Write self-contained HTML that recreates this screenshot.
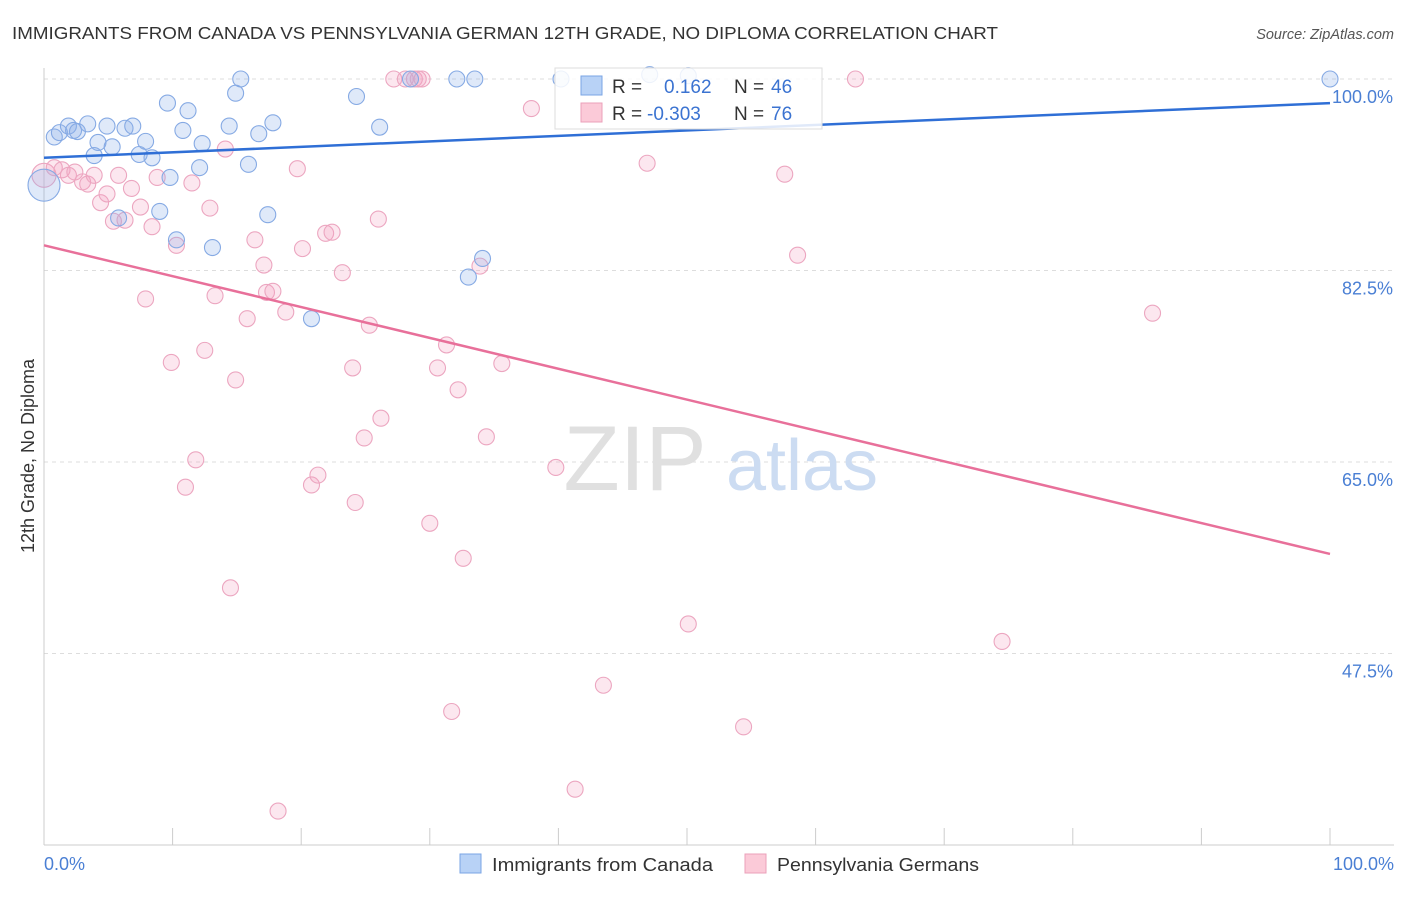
<!DOCTYPE html>
<html><head><meta charset="utf-8">
<style>
body{margin:0;background:#fff;font-family:"Liberation Sans",sans-serif;}
svg text{font-family:"Liberation Sans",sans-serif;}
</style></head>
<body>
<svg id="chart" width="1406" height="892" viewBox="0 0 1406 892">
<text x="12" y="39" font-size="17.5" fill="#333" textLength="986" lengthAdjust="spacingAndGlyphs">IMMIGRANTS FROM CANADA VS PENNSYLVANIA GERMAN 12TH GRADE, NO DIPLOMA CORRELATION CHART</text>
<text x="1394" y="39" font-size="14.5" fill="#555" font-style="italic" text-anchor="end">Source: ZipAtlas.com</text>
<g id="grid"></g>
<g>
<text x="635" y="490" font-size="92" fill="#e0e0e0" font-family="Liberation Serif" text-anchor="middle">ZIP</text>
<text x="802" y="490" font-size="72" fill="#ccdcf2" text-anchor="middle">atlas</text>
</g>
<line x1="44" y1="68" x2="44" y2="845" stroke="#ccc"/>
<line x1="44" y1="845" x2="1394" y2="845" stroke="#ccc"/>
<g id="xticks"></g>
<g id="ylabels"></g>
<text x="44" y="870" font-size="18" fill="#4a7fd4">0.0%</text>
<text x="1394" y="870" font-size="18" fill="#4a7fd4" text-anchor="end">100.0%</text>
<text transform="translate(34,456) rotate(-90)" font-size="18" fill="#333" text-anchor="middle">12th Grade, No Diploma</text>
<g id="pinkpts"></g>
<g id="bluepts"></g>
<g id="lines"></g>
<g>
<rect x="555" y="68" width="267" height="61" fill="#fff" fill-opacity="0.85" stroke="#ddd"/>
<rect x="581" y="76" width="21" height="19" fill="#b8d2f6" stroke="#7aa4e4"/>
<rect x="581" y="103" width="21" height="19" fill="#fbcad8" stroke="#eba0ba"/>
<text x="612" y="93" font-size="19" fill="#333">R = </text>
<text x="664" y="93" font-size="19" fill="#3b73d1">0.162</text>
<text x="734" y="93" font-size="19" fill="#333">N = </text>
<text x="771" y="93" font-size="19" fill="#3b73d1">46</text>
<text x="612" y="120" font-size="19" fill="#333">R = </text>
<text x="647" y="120" font-size="19" fill="#3b73d1">-0.303</text>
<text x="734" y="120" font-size="19" fill="#333">N = </text>
<text x="771" y="120" font-size="19" fill="#3b73d1">76</text>
</g>
<g>
<rect x="460" y="854" width="21" height="19" fill="#b8d2f6" stroke="#7aa4e4"/>
<text x="492" y="871" font-size="18.5" fill="#333" textLength="221" lengthAdjust="spacingAndGlyphs">Immigrants from Canada</text>
<rect x="745" y="854" width="21" height="19" fill="#fbcad8" stroke="#eba0ba"/>
<text x="777" y="871" font-size="18.5" fill="#333" textLength="202" lengthAdjust="spacingAndGlyphs">Pennsylvania Germans</text>
</g>
</svg>
<script>
const yTicks=[100,82.5,65,47.5];
const yTickLabels=["100.0%","82.5%","65.0%","47.5%"];
const xTicks=[10,20,30,40,50,60,70,80,90,100];
const blueX=[0,0.8,1.2,1.9,2.3,2.6,3.4,3.9,4.2,4.9,5.3,5.8,6.3,6.9,7.4,7.9,8.4,9.0,9.6,9.8,10.3,10.8,11.2,12.1,12.3,13.1,14.4,14.9,15.3,15.9,16.7,17.4,17.8,20.8,24.3,26.1,28.5,32.1,33.5,33.0,34.1,40.2,47.1,50.1,100];
const blueY=[90.3,94.7,95.1,95.7,95.3,95.2,95.9,93.0,94.2,95.7,93.8,87.3,95.5,95.7,93.1,94.3,92.8,87.9,97.8,91.0,85.3,95.3,97.1,91.9,94.1,84.6,95.7,98.7,100,92.2,95.0,87.6,96.0,78.1,98.4,95.6,100,100,100,81.9,83.6,100,100.4,100.3,100];
const pinkX=[0,0.8,1.4,1.9,2.4,3.0,3.4,3.9,4.4,4.9,5.4,5.8,6.3,6.8,7.5,7.9,8.4,8.8,9.9,10.3,11.0,11.5,11.8,12.5,12.9,13.3,14.1,14.5,14.9,15.8,16.4,17.1,17.3,17.8,18.2,18.8,19.7,20.1,20.8,21.3,21.9,22.4,23.2,24.0,24.2,24.9,25.3,26.0,26.2,27.2,28.1,28.8,29.1,29.4,30.0,30.6,31.3,31.7,32.2,32.6,33.9,34.4,35.6,37.9,39.8,41.3,43.5,46.9,50.1,54.4,57.6,58.6,63.1,74.5,86.2];
const pinkY=[91.2,91.9,91.7,91.2,91.5,90.6,90.4,91.2,88.7,89.5,87.0,91.2,87.1,90.0,88.3,79.9,86.5,91.0,74.1,84.8,62.7,90.5,65.2,75.2,88.2,80.2,93.6,53.5,72.5,78.1,85.3,83.0,80.5,80.6,33.1,78.7,91.8,84.5,62.9,63.8,85.9,86.0,82.3,73.6,61.3,67.2,77.5,87.2,69.0,100,100,100,100,100,59.4,73.6,75.7,42.2,71.6,56.2,82.9,67.3,74.0,97.3,64.5,35.1,44.6,92.3,50.2,40.8,91.3,83.9,100,48.6,78.6];
const blueTrend=[92.8,97.8];
const pinkTrend=[84.8,56.6];
const NS="http://www.w3.org/2000/svg";
const X=v=>44+v*12.86;
const Y=v=>79+(100-v)*10.943;
function mk(t,a,p){const e=document.createElementNS(NS,t);for(const k in a)e.setAttribute(k,a[k]);document.getElementById(p).appendChild(e);return e;}
yTicks.forEach((t,i)=>{
 const l=mk('line',{x1:44,x2:1394,y1:Y(t),y2:Y(t),stroke:'#ddd','stroke-dasharray':'4,4'},'grid');
 
 
 const tx=mk('text',{x:1393,y:Y(t)+24,'font-size':18,fill:'#4a7fd4','text-anchor':'end'},'ylabels');
 tx.textContent=yTickLabels[i];
 
 
});
xTicks.forEach(t=>{
 const l=mk('line',{x1:X(t),x2:X(t),y1:828,y2:845,stroke:'#ccc'},'xticks');
 
 
});
pinkX.forEach((x,i)=>{
 const c=mk('circle',{cx:X(x),cy:Y(pinkY[i]),r:i===0?12:8,fill:'rgba(244,160,190,0.25)',stroke:'#eca6c0','stroke-width':1.1},'pinkpts');
 
 
});
blueX.forEach((x,i)=>{
 const c=mk('circle',{cx:X(x),cy:Y(blueY[i]),r:i===0?16:8,fill:'rgba(140,175,235,0.28)',stroke:'#86aae4','stroke-width':1.1},'bluepts');
 
 
});
const bl=mk('line',{x1:X(0),x2:X(100),y1:Y(blueTrend[0]),y2:Y(blueTrend[1]),stroke:'#2f6fd6','stroke-width':2.5},'lines');


const pl=mk('line',{x1:X(0),x2:X(100),y1:Y(pinkTrend[0]),y2:Y(pinkTrend[1]),stroke:'#e8709a','stroke-width':2.5},'lines');


</script>
</body></html>
